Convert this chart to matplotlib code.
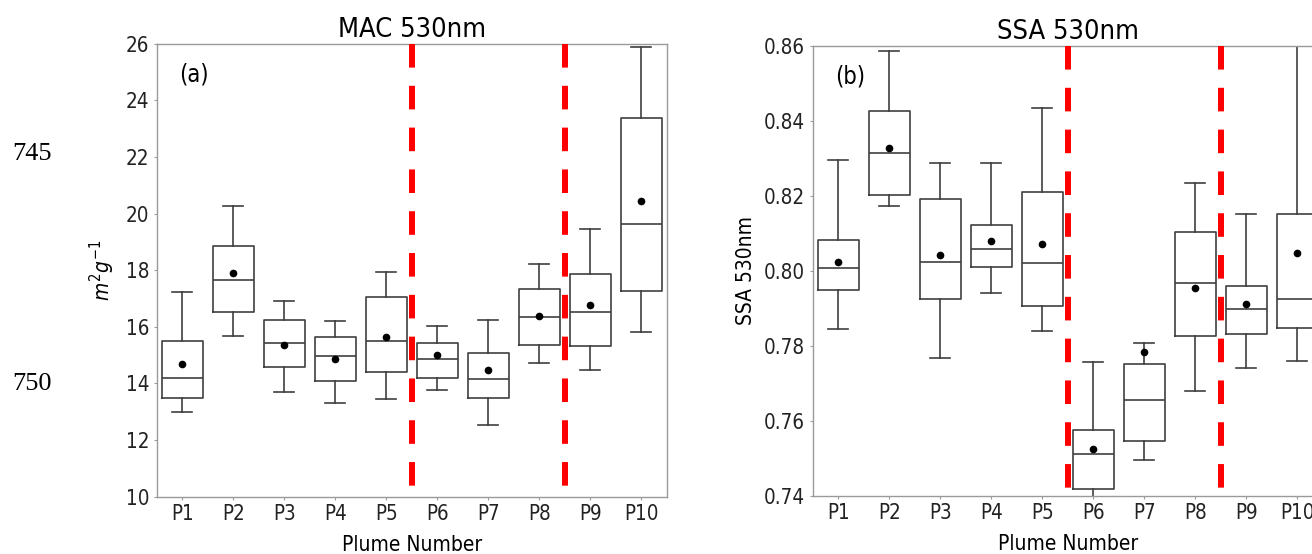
import matplotlib
matplotlib.use("Agg")
import matplotlib.pyplot as plt

plumes = ["P1", "P2", "P3", "P4", "P5", "P6", "P7", "P8", "P9", "P10"]

# MAC 530nm box stats
mac_low = [12.98, 15.69, 13.71, 13.32, 13.46, 13.77, 12.55, 14.73, 14.49, 15.83]
mac_q1 = [13.48, 16.53, 14.57, 14.09, 14.39, 14.19, 13.49, 15.35, 15.33, 17.26]
mac_med = [14.18, 17.66, 15.44, 14.98, 15.49, 14.88, 14.17, 16.33, 16.54, 19.63]
mac_q3 = [15.50, 18.86, 16.25, 15.64, 17.06, 15.44, 15.08, 17.33, 17.85, 23.39]
mac_high = [17.24, 20.26, 16.91, 16.20, 17.94, 16.02, 16.23, 18.22, 19.44, 25.90]
mac_mean = [14.68, 17.89, 15.35, 14.87, 15.63, 15.02, 14.46, 16.39, 16.78, 20.43]

# SSA 530nm box stats
ssa_low = [0.7844, 0.8173, 0.7768, 0.7941, 0.7840, 0.7395, 0.7494, 0.7680, 0.7741, 0.7759]
ssa_q1 = [0.7948, 0.8201, 0.7924, 0.8009, 0.7906, 0.7417, 0.7546, 0.7827, 0.7830, 0.7848]
ssa_med = [0.8008, 0.8314, 0.8024, 0.8057, 0.8021, 0.7511, 0.7656, 0.7968, 0.7898, 0.7925]
ssa_q3 = [0.8082, 0.8426, 0.8192, 0.8122, 0.8211, 0.7576, 0.7750, 0.8104, 0.7959, 0.8150]
ssa_high = [0.8294, 0.8586, 0.8286, 0.8286, 0.8434, 0.7756, 0.7808, 0.8234, 0.8152, 0.8700]
ssa_mean = [0.8024, 0.8327, 0.8042, 0.8080, 0.8070, 0.7525, 0.7783, 0.7954, 0.7912, 0.8046]

dividers = [4.5, 7.5]

plt.rcParams["font.family"] = "DejaVu Sans"
plt.rcParams["font.stretch"] = "condensed"

LINE = "#3f3f3f"
SPINE = "#9a9a9a"


def box_stats(low, q1, med, q3, high, mean):
	return [dict(whislo=a, q1=b, med=c, q3=d, whishi=e, mean=f, fliers=[])
		for a, b, c, d, e, f in zip(low, q1, med, q3, high, mean)]


def draw(ax, stats, title, ylabel, ylim, yticks, tag):
	lp = dict(color=LINE, linewidth=1.2)
	ax.bxp(stats, positions=range(len(stats)), widths=0.8, showmeans=True,
		boxprops=lp, whiskerprops=lp, capprops=lp, medianprops=lp,
		meanprops=dict(marker="o", markerfacecolor="black", markeredgecolor="black", markersize=4.5),
		manage_ticks=False)
	for x in dividers:
		ax.plot([x, x], [1, 0], transform=ax.get_xaxis_transform(), color="red",
			linewidth=4.3, linestyle=(0, (3.95, 3.05)), solid_capstyle="butt", zorder=3)
	ax.set_xlim(-0.5, len(stats) - 0.5)
	ax.set_ylim(*ylim)
	ax.set_yticks(yticks)
	ax.set_xticks(range(len(plumes)))
	ax.set_xticklabels(plumes)
	ax.tick_params(labelsize=14.8, length=2.5, width=0.8, color=SPINE, labelcolor="#222222", pad=3)
	for s in ax.spines.values():
		s.set_color(SPINE)
		s.set_linewidth(1.0)
	ax.set_title(title, fontsize=19.5, pad=5)
	ax.set_xlabel("Plume Number", fontsize=15, labelpad=8)
	ax.set_ylabel(ylabel, fontsize=15, labelpad=6)
	ax.text(0.044, 0.958, tag, transform=ax.transAxes, fontsize=17, va="top", ha="left")


fig = plt.figure(figsize=(13.12, 5.54), dpi=100)
ax1 = fig.add_axes([0.1194, 0.1034, 0.3887, 0.8177])
ax2 = fig.add_axes([0.6195, 0.1052, 0.3887, 0.8123])

draw(ax1, box_stats(mac_low, mac_q1, mac_med, mac_q3, mac_high, mac_mean),
	"MAC 530nm", r"$m^2g^{-1}$", (10, 26), range(10, 27, 2), "(a)")
draw(ax2, box_stats(ssa_low, ssa_q1, ssa_med, ssa_q3, ssa_high, ssa_mean),
	"SSA 530nm", "SSA 530nm", (0.74, 0.86), [0.74, 0.76, 0.78, 0.80, 0.82, 0.84, 0.86], "(b)")
ax2.set_yticklabels(["0.74", "0.76", "0.78", "0.80", "0.82", "0.84", "0.86"])

# line numbers from the manuscript margin
fig.text(0.009, 1 - 154 / 554, "745", fontsize=19, family="Liberation Serif", va="center", ha="left")
fig.text(0.009, 1 - 384 / 554, "750", fontsize=19, family="Liberation Serif", va="center", ha="left")

fig.savefig("out.png", dpi=100)
